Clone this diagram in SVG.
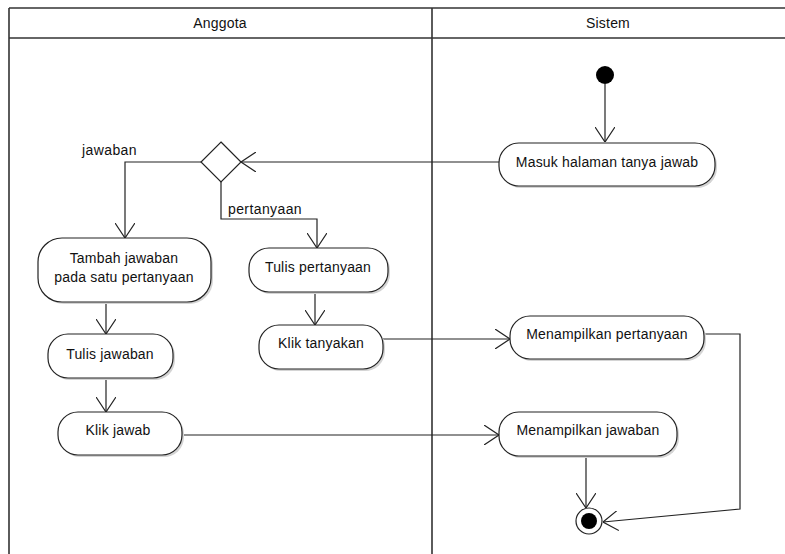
<svg xmlns="http://www.w3.org/2000/svg" width="785" height="554" viewBox="0 0 785 554">
<style>
.frame{fill:none;stroke:#333;stroke-width:1.6}
.node{fill:#fff;stroke:#222;stroke-width:1.2}
.shadow{fill:#d4d4d4;stroke:none}
.t{font-family:"Liberation Sans",Arial,sans-serif;font-size:14px;letter-spacing:0.2px;fill:#111;text-anchor:middle}
.lbl{font-family:"Liberation Sans",Arial,sans-serif;font-size:14px;letter-spacing:0.4px;fill:#111}
.c{fill:none;stroke:#222;stroke-width:1.2}
</style>
<defs>
<marker id="arr" viewBox="0 0 15 20" refX="15" refY="10" markerWidth="15" markerHeight="20" markerUnits="userSpaceOnUse" orient="auto">
<path d="M0,0 L15,10 L0,20" fill="none" stroke="#222" stroke-width="1.2"/>
</marker>
</defs>
<rect width="785" height="554" fill="#fff"/>
<g id="swimlanes">
<line class="frame" x1="9" y1="8" x2="785" y2="8"/>
<line class="frame" x1="9" y1="38" x2="785" y2="38"/>
<line class="frame" x1="9" y1="8" x2="9" y2="554"/>
<line class="frame" x1="432" y1="8" x2="432" y2="554"/>
<text class="t" x="220" y="28">Anggota</text>
<text class="t" x="608" y="28">Sistem</text>
</g>
<g id="connectors">
<line class="c" x1="605" y1="84" x2="605" y2="142" marker-end="url(#arr)"/>
<line class="c" x1="499" y1="162" x2="241" y2="162" marker-end="url(#arr)"/>
<polyline class="c" points="202,162 125,162 125,238" marker-end="url(#arr)"/>
<polyline class="c" points="221,181 221,219 317,219 317,248" marker-end="url(#arr)"/>
<line class="c" x1="106" y1="302" x2="106" y2="334" marker-end="url(#arr)"/>
<line class="c" x1="106" y1="378" x2="106" y2="412" marker-end="url(#arr)"/>
<line class="c" x1="315" y1="292" x2="315" y2="325" marker-end="url(#arr)"/>
<line class="c" x1="383" y1="339" x2="510" y2="339" marker-end="url(#arr)"/>
<line class="c" x1="182" y1="435" x2="499" y2="435" marker-end="url(#arr)"/>
<polyline class="c" points="704,334 740,334 740,509 603,522" marker-end="url(#arr)"/>
<line class="c" x1="586" y1="456" x2="586" y2="508" marker-end="url(#arr)"/>
<text class="lbl" x="82" y="155">jawaban</text>
<text class="lbl" x="228" y="214">pertanyaan</text>
</g>
<g id="start"><circle cx="605" cy="75" r="9" fill="#000"/></g>
<g id="masuk">
<rect class="shadow" x="501" y="145" width="216" height="43" rx="20"/>
<rect class="node" x="499" y="143" width="216" height="43" rx="20"/>
<text class="t" x="607" y="167">Masuk halaman tanya jawab</text>
</g>
<g id="decision">
<polygon class="node" points="221,142 241,162 221,182 201,162"/>
</g>
<g id="tambah">
<rect class="shadow" x="40" y="240" width="173" height="64" rx="24"/>
<rect class="node" x="38" y="238" width="173" height="64" rx="24"/>
<text class="t" x="124" y="263">Tambah jawaban</text>
<text class="t" x="124" y="282">pada satu pertanyaan</text>
</g>
<g id="tulis-pertanyaan">
<rect class="shadow" x="251" y="250" width="139" height="44" rx="20"/>
<rect class="node" x="249" y="248" width="139" height="44" rx="20"/>
<text class="t" x="318" y="272">Tulis pertanyaan</text>
</g>
<g id="tulis-jawaban">
<rect class="shadow" x="50" y="336" width="125" height="44" rx="20"/>
<rect class="node" x="48" y="334" width="125" height="44" rx="20"/>
<text class="t" x="110" y="359">Tulis jawaban</text>
</g>
<g id="klik-tanyakan">
<rect class="shadow" x="261" y="327" width="124" height="44" rx="20"/>
<rect class="node" x="259" y="325" width="124" height="44" rx="20"/>
<text class="t" x="321" y="348">Klik tanyakan</text>
</g>
<g id="klik-jawab">
<rect class="shadow" x="60" y="414" width="124" height="43" rx="20"/>
<rect class="node" x="58" y="412" width="124" height="43" rx="20"/>
<text class="t" x="118" y="435">Klik jawab</text>
</g>
<g id="menampilkan-pertanyaan">
<rect class="shadow" x="512" y="318" width="194" height="43" rx="20"/>
<rect class="node" x="510" y="316" width="194" height="43" rx="20"/>
<text class="t" x="607" y="339">Menampilkan pertanyaan</text>
</g>
<g id="menampilkan-jawaban">
<rect class="shadow" x="501" y="414" width="178" height="44" rx="20"/>
<rect class="node" x="499" y="412" width="178" height="44" rx="20"/>
<text class="t" x="588" y="435">Menampilkan jawaban</text>
</g>
<g id="end">
<circle cx="589" cy="521" r="13" fill="#fff" stroke="#222" stroke-width="1.2"/>
<circle cx="589" cy="521" r="8" fill="#000"/>
</g>
</svg>
